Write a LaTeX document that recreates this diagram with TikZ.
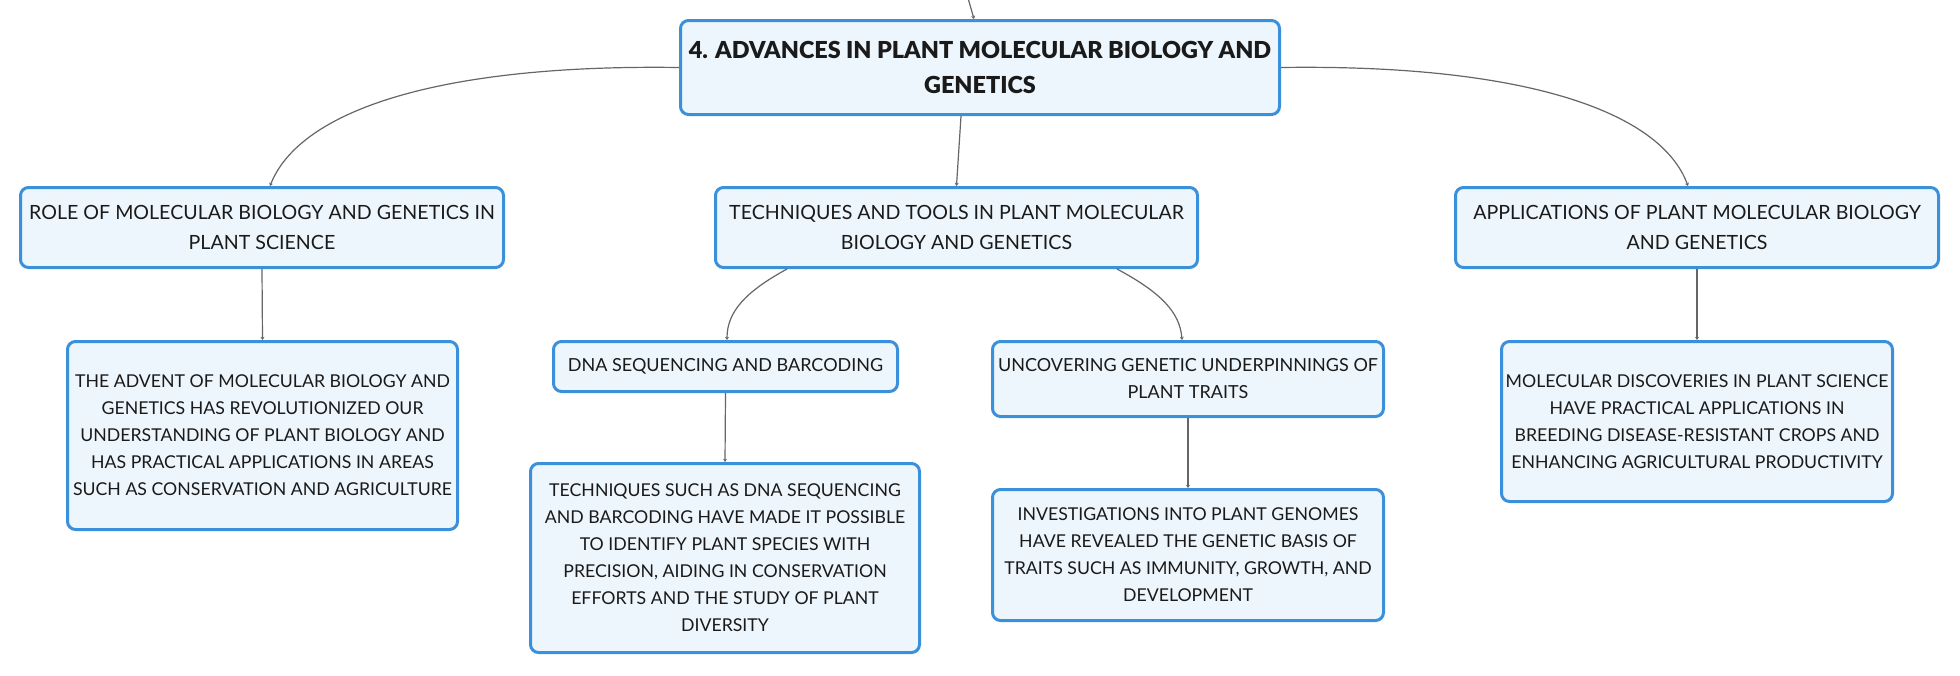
\documentclass[tikz,border=0pt]{standalone}
\usepackage{fontspec}
\setmainfont{Lato}
\newfontfamily\titlefont{Lato Black}
\usetikzlibrary{arrows.meta,calc}
\definecolor{boxblue}{HTML}{3A90DA}
\definecolor{boxfill}{HTML}{EEF6FD}
\definecolor{linegray}{HTML}{666666}
\definecolor{txt}{HTML}{1A1A1A}
\tikzset{
  box/.style={draw=boxblue, line width=1.5pt, fill=boxfill, rounded corners=4pt,
    align=center, inner sep=0pt, text=txt},
  rootbox/.style={box, font=\titlefont\fontsize{11.7pt}{17.5pt}\selectfont},
  headbox/.style={box, font=\fontsize{9.8pt}{15pt}\selectfont},
  midbox/.style={box, font=\fontsize{9pt}{13.5pt}\selectfont},
  leafbox/.style={box, font=\fontsize{8.85pt}{13.5pt}\selectfont},
  conn/.style={draw=linegray, line width=0.6pt, -{Stealth[length=1.6pt,width=2pt]}},
}
\begin{document}
\begin{tikzpicture}[x=0.5pt,y=-0.5pt]
\useasboundingbox (0,0) rectangle (1960,675);
\fill[white] (0,0) rectangle (1960,675);

\node[rootbox, minimum width=299.5pt, minimum height=47pt] (root) at (980,67.5)
  {4. ADVANCES IN PLANT MOLECULAR BIOLOGY AND\\GENETICS};

\node[headbox, minimum width=241.5pt, minimum height=40pt] (role) at (262,227.5)
  {ROLE OF MOLECULAR BIOLOGY AND GENETICS IN\\PLANT SCIENCE};
\node[headbox, minimum width=241pt, minimum height=40pt] (tech) at (956.5,227.5)
  {TECHNIQUES AND TOOLS IN PLANT MOLECULAR\\BIOLOGY AND GENETICS};
\node[headbox, minimum width=241.5pt, minimum height=40pt] (appl) at (1697,227.5)
  {APPLICATIONS OF PLANT MOLECULAR BIOLOGY\\AND GENETICS};

\node[leafbox, minimum width=195pt, minimum height=94pt] (roleC) at (262.5,435.5)
  {THE ADVENT OF MOLECULAR BIOLOGY AND\\GENETICS HAS REVOLUTIONIZED OUR\\UNDERSTANDING OF PLANT BIOLOGY AND\\HAS PRACTICAL APPLICATIONS IN AREAS\\SUCH AS CONSERVATION AND AGRICULTURE};

\node[midbox, minimum width=172pt, minimum height=25pt] (dna) at (725.5,366.5)
  {DNA SEQUENCING AND BARCODING};
\node[midbox, minimum width=195.5pt, minimum height=37.5pt] (unc) at (1188,379)
  {UNCOVERING GENETIC UNDERPINNINGS OF\\PLANT TRAITS};

\node[leafbox, minimum width=194.5pt, minimum height=94.5pt] (dnaC) at (725,558)
  {TECHNIQUES SUCH AS DNA SEQUENCING\\AND BARCODING HAVE MADE IT POSSIBLE\\TO IDENTIFY PLANT SPECIES WITH\\PRECISION, AIDING IN CONSERVATION\\EFFORTS AND THE STUDY OF PLANT\\DIVERSITY};
\node[leafbox, minimum width=195.5pt, minimum height=65.5pt] (uncC) at (1188,555)
  {INVESTIGATIONS INTO PLANT GENOMES\\HAVE REVEALED THE GENETIC BASIS OF\\TRAITS SUCH AS IMMUNITY, GROWTH, AND\\DEVELOPMENT};
\node[leafbox, minimum width=195.5pt, minimum height=80pt] (applC) at (1697,421.5)
  {MOLECULAR DISCOVERIES IN PLANT SCIENCE\\HAVE PRACTICAL APPLICATIONS IN\\BREEDING DISEASE-RESISTANT CROPS AND\\ENHANCING AGRICULTURAL PRODUCTIVITY};

\coordinate (above) at (968,-2);
\draw[conn] (above) -- ([xshift=-3pt]root.north);

\draw[conn] (root.west) .. controls (440,64) and (300,110) .. ([xshift=4pt]role.north);
\draw[conn] (root.east) .. controls (1520,64) and (1660,110) .. ([xshift=-4.5pt]appl.north);
\draw[conn] ([xshift=-9.5pt]root.south) -- (tech.north);

\draw[conn] ([xshift=-84.75pt]tech.south) .. controls (745,292) and (727,312) .. ([xshift=0.75pt]dna.north);
\draw[conn] ([xshift=80.25pt]tech.south) .. controls (1160,292) and (1180,312) .. ([xshift=-3pt]unc.north);

\draw[conn] (role.south) -- (roleC.north);
\draw[conn] (dna.south) -- (dnaC.north);
\draw[conn] (unc.south) -- (uncC.north);
\draw[conn] (appl.south) -- (applC.north);
\end{tikzpicture}
\end{document}
